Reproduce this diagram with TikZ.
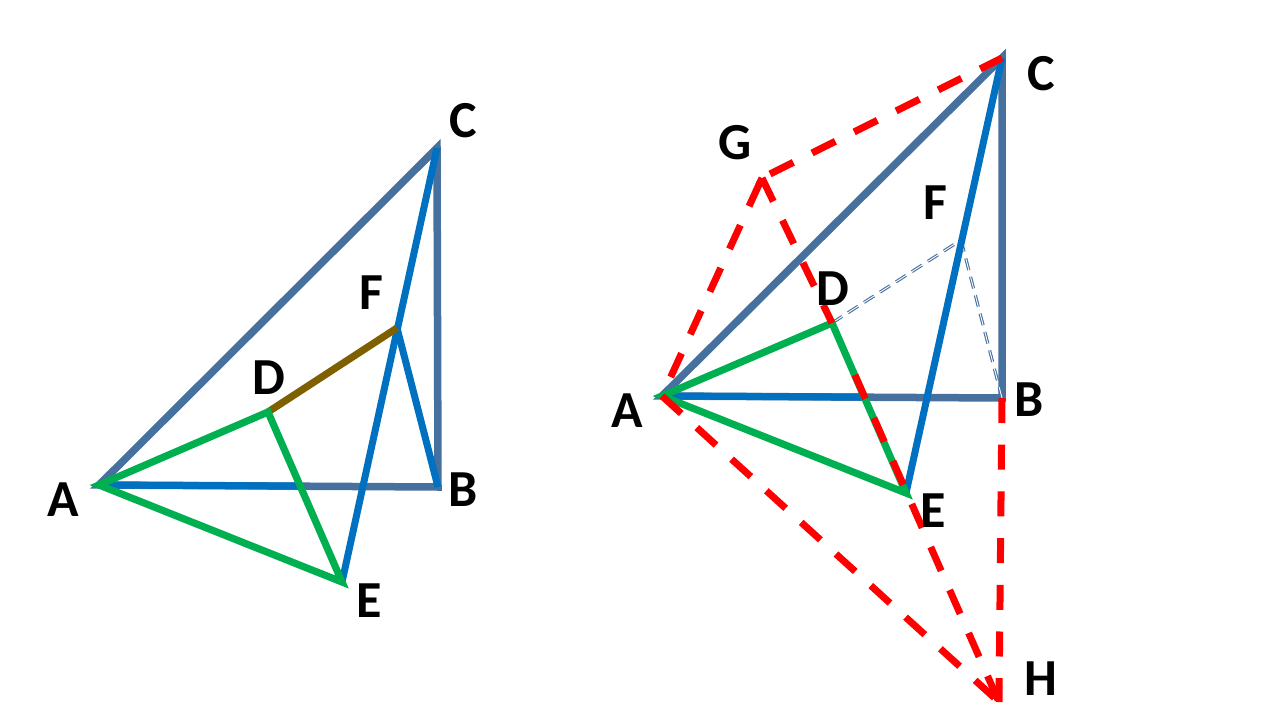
\documentclass[tikz,border=0pt]{standalone}
\usepackage{fontspec}
\setmainfont{Carlito}
\usetikzlibrary{calc}
\definecolor{slate}{HTML}{46709E}
\definecolor{mblue}{HTML}{0070C0}
\definecolor{mgreen}{HTML}{00B050}
\definecolor{mbrown}{HTML}{7F6000}
\tikzset{
  slateline/.style={draw=slate,line width=7.5pt,miter limit=10},
  blueline/.style={draw=mblue,line width=7pt},
  greenline/.style={draw=mgreen,line width=7.2pt,miter limit=10},
  brownline/.style={draw=mbrown,line width=7.2pt},
  redsolid/.style={draw=red,line width=7pt},
  redline/.style={redsolid,dash pattern=on 26pt off 21pt},
  thindash/.style={draw=slate,line width=1.1pt,double=white,double distance=0.9pt,dash pattern=on 12pt off 7pt},
  lab/.style={font=\bfseries\fontsize{52}{52}\selectfont,text=black,inner sep=0pt}
}
\begin{document}
\begin{tikzpicture}[x=1pt,y=-1pt]
\useasboundingbox (0,0) rectangle (1280,720);
% left figure
\coordinate (A1) at (99,485);
\coordinate (B1) at (438,487);
\coordinate (C1) at (437,148);
\coordinate (D1) at (268,412);
\coordinate (E1) at (342,582);
\coordinate (F1) at (397,328);
\coordinate (M1) at (300,486);
\draw[slateline] (A1) -- (C1) -- (B1) -- cycle;
\draw[blueline] (A1) -- (M1);
\draw[blueline] (C1) -- (E1);
\draw[blueline] (F1) -- (B1);
\draw[brownline] (D1) -- (F1);
\draw[greenline] (A1) -- (D1) -- (E1) -- cycle;
\node[lab] (a1) at (63,500) {A};
\node[lab] (b1) at (463,490) {B};
\node[lab] (c1) at (463,121) {C};
\node[lab] (d1) at (269,378) {D};
\node[lab] (e1) at (369,601) {E};
\node[lab] (f1) at (371,293) {F};
% right figure
\coordinate (A2) at (662,396);
\coordinate (B2) at (1002,398);
\coordinate (C2) at (1002,58);
\coordinate (D2) at (832,323);
\coordinate (E2) at (906,493);
\coordinate (F2) at (961,240);
\coordinate (G2) at (762,178);
\coordinate (H2) at (999,702);
\coordinate (M2) at (863,397);
\coordinate (P2) at ($(D2)!0.137!(H2)$);
\coordinate (Q2) at ($(G2)!8pt!(A2)$);
\draw[slateline] (A2) -- (C2) -- (B2) -- cycle;
\draw[thindash] (D2) -- (F2);
\draw[thindash] (F2) -- (B2);
\draw[blueline] (A2) -- (M2);
\draw[blueline] (C2) -- (E2);
\draw[greenline] (A2) -- (D2) -- (E2) -- cycle;
\draw[redline,dash phase=42pt] (G2) -- (A2);
\draw[redsolid] (G2) -- (Q2);
\draw[redline,dash phase=38pt] (G2) -- (C2);
\draw[redline] (G2) -- (D2);
\draw[redline] (P2) -- (H2);
\draw[redline] (A2) -- (H2);
\draw[redline,dash pattern=on 25pt off 21.7pt] (B2) -- (H2);
\node[lab] (a2) at (627,411) {A};
\node[lab] (b2) at (1029,400) {B};
\node[lab] (c2) at (1041,74) {C};
\node[lab] (d2) at (833,289) {D};
\node[lab] (e2) at (933,511) {E};
\node[lab] (f2) at (935,203) {F};
\node[lab] (g2) at (735,143) {G};
\node[lab] (h2) at (1041,679) {H};
\end{tikzpicture}
\end{document}
